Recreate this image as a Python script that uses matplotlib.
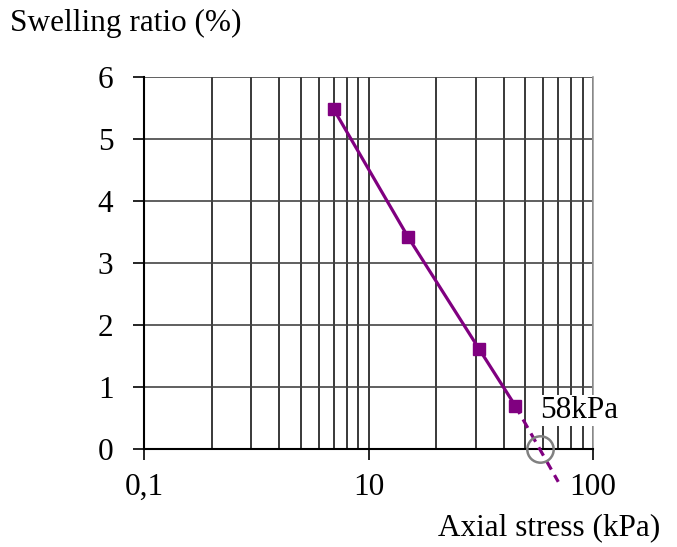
import matplotlib.pyplot as plt
import matplotlib.ticker as mticker

# data
stress = [7, 15, 31, 45]
swelling = [5.48, 3.42, 1.62, 0.70]
ext_stress = [45, 70]
ext_swelling = [0.70, -0.53]
swell_pressure = 58

x_ticks = [1, 10, 100]
x_labels = ['0,1', '10', '100']
y_ticks = [0, 1, 2, 3, 4, 5, 6]

plt.rcParams['font.family'] = ['Liberation Serif', 'DejaVu Serif']
FS = 22.5

fig = plt.figure(figsize=(6.77, 5.47), dpi=100)
ax = fig.add_axes([0.2127, 0.1792, 0.876 - 0.2127, 0.859 - 0.1792])

ax.set_xscale('log')
ax.set_xlim(1, 100)
ax.set_ylim(0, 6)

# grid
ax.xaxis.set_minor_locator(mticker.LogLocator(base=10, subs=range(2, 10)))
ax.xaxis.set_minor_formatter(mticker.NullFormatter())
ax.grid(True, which='both', axis='x', color='#2a2a2a', linewidth=1.3)
ax.grid(True, which='major', axis='y', color='#444444', linewidth=1.2)
ax.set_axisbelow(True)

ax.plot(stress, swelling, color='#800080', linewidth=2.3,
        marker='s', markersize=9, zorder=3)
ax.plot(ext_stress, ext_swelling, color='#800080', linewidth=2.3,
        linestyle=(0, (3, 2)), clip_on=False, zorder=3)
ax.plot([swell_pressure], [0], marker='o', markersize=19, markerfacecolor='none',
        markeredgecolor='#808080', markeredgewidth=1.8, clip_on=False, zorder=4)

ax.text(swell_pressure, 0.62, f'{swell_pressure}kPa', fontsize=FS,
        ha='left', va='center', zorder=5,
        bbox=dict(facecolor='white', edgecolor='none', pad=1))

ax.set_xticks(x_ticks)
ax.set_xticklabels(x_labels)
ax.set_yticks(y_ticks)
ax.tick_params(axis='both', which='major', labelsize=FS, length=8, width=1.2,
               direction='out', color='black')
ax.tick_params(axis='y', pad=14)
ax.tick_params(axis='x', pad=9)
ax.tick_params(axis='x', which='minor', length=0)

for side in ['left', 'bottom']:
    ax.spines[side].set_color('black')
    ax.spines[side].set_linewidth(1.5)
ax.spines['top'].set_visible(False)
ax.spines['right'].set_color('#999999')
ax.spines['right'].set_linewidth(1.2)

fig.text(10 / 677, 1 - 23 / 547, 'Swelling ratio (%)', fontsize=FS,
         ha='left', va='center')
fig.text(660 / 677, 1 - 528 / 547, 'Axial stress (kPa)', fontsize=FS,
         ha='right', va='center')

fig.savefig('out.png', dpi=100)
